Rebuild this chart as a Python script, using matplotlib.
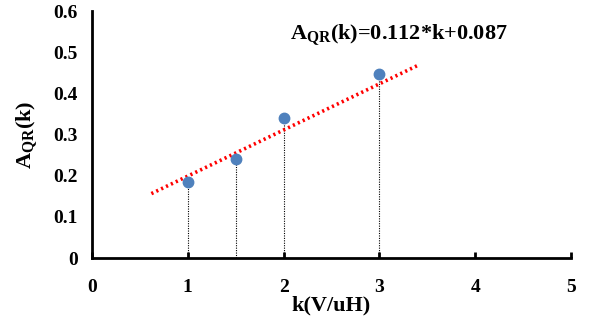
import matplotlib
matplotlib.use("Agg")
import matplotlib.pyplot as plt
import numpy as np

plt.rcParams['font.family'] = ['Liberation Serif', 'DejaVu Serif']
plt.rcParams['font.weight'] = 'bold'
plt.rcParams['mathtext.fontset'] = 'custom'
plt.rcParams['mathtext.rm'] = 'Liberation Serif:bold'
plt.rcParams['mathtext.bf'] = 'Liberation Serif:bold'
plt.rcParams['mathtext.it'] = 'Liberation Serif:bold'

k = [1.0, 1.5, 2.0, 3.0]
a_qr = [0.185, 0.240, 0.339, 0.448]
slope = 0.112
intercept = 0.087
fit_range = [0.62, 3.4]
xticks = [0, 1, 2, 3, 4, 5]
yticks = [0, 0.1, 0.2, 0.3, 0.4, 0.5, 0.6]
ytick_labels = ['0', '0.1', '0.2', '0.3', '0.4', '0.5', '0.6']

fig = plt.figure(figsize=(5.95, 3.24), dpi=100)
ax = fig.add_axes([0.1546, 0.2037, 0.8051, 0.7623])

for xi, yi in zip(k, a_qr):
    ax.plot([xi, xi], [0, yi], color='black', lw=0.8, ls=(0, (1, 1.2)), zorder=1)

xf = np.array(fit_range)
ax.plot(xf, slope * xf + intercept, color='#ff0000', lw=2.6, ls=(0, (0.6, 0.9)),
        zorder=2)
ax.plot(k, a_qr, 'o', color='#4F81BD', ms=7.5, zorder=3)

ax.set_xlim(0, 5)
ax.set_ylim(0, 0.6)
ax.set_xticks(xticks)
ax.set_yticks(yticks)
ax.set_yticklabels(ytick_labels)
for s in ['top', 'right']:
    ax.spines[s].set_visible(False)
for s in ['left', 'bottom']:
    ax.spines[s].set_linewidth(2)
ax.tick_params(axis='x', direction='in', length=4, width=2, pad=15, labelsize=14)
ax.tick_params(axis='y', direction='in', length=0, pad=10, labelsize=14)
for lbl in ax.get_xticklabels() + ax.get_yticklabels():
    lbl.set_fontweight('bold')

ax.set_xlabel('k(V/uH)', fontsize=16, fontweight='bold', labelpad=0)
ax.set_ylabel(r'A$_{\mathrm{QR}}$(k)', fontsize=16, fontweight='bold', labelpad=10)

ax.text(3.2, 0.54, r'A$_{\mathrm{QR}}$(k)=0.112*k+0.087', fontsize=16,
        fontweight='bold', ha='center', va='center')

fig.savefig('out.png', dpi=100)
